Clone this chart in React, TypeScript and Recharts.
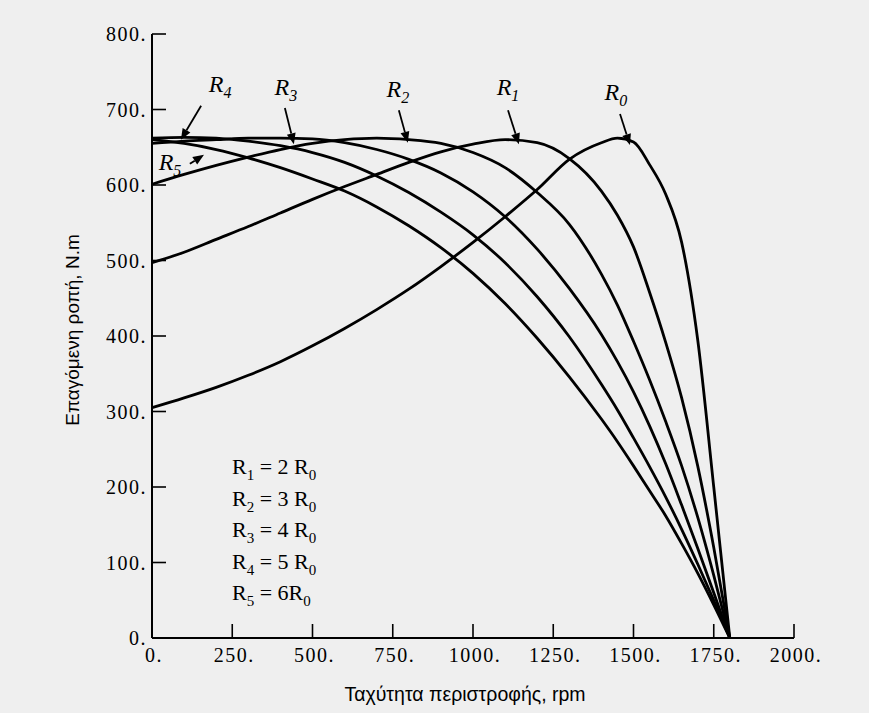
import { LineChart, Line, XAxis, YAxis, ReferenceDot, ReferenceLine } from "recharts";

// rotor speed, rpm (shared by all curves)
const speeds = [0, 100, 200, 300, 400, 500, 600, 700, 800, 900, 1000, 1100, 1200, 1300, 1400, 1450, 1500, 1550, 1600, 1650, 1700, 1750, 1800];

// induced torque, N.m
const torqueR0 = [305, 318, 332, 348, 366, 387, 410, 435, 462, 492, 524, 558, 594, 634, 656, 662, 657, 627, 588, 524, 395, 200, 0];
const torqueR1 = [497, 511, 528, 545, 563, 581, 598, 614, 630, 644, 654, 660, 656, 635, 592, 560, 518, 458, 392, 318, 228, 120, 0];
const torqueR2 = [601, 614, 626, 637, 647, 655, 660, 662, 660, 655, 643, 623, 590, 548, 482, 441, 393, 342, 287, 228, 160, 83, 0];
const torqueR3 = [655, 658, 660, 662, 662, 661, 656, 647, 634, 616, 591, 558, 515, 463, 402, 366, 326, 281, 231, 176, 119, 60, 0];
const torqueR4 = [662, 663, 662, 658, 652, 643, 630, 612, 590, 564, 534, 497, 452, 399, 336, 302, 265, 227, 187, 144, 98, 50, 0];
const torqueR5 = [660, 655, 647, 636, 623, 608, 592, 571, 546, 517, 483, 443, 397, 346, 290, 260, 228, 195, 162, 125, 86, 44, 0];

const xTicks = [0, 250, 500, 750, 1000, 1250, 1500, 1750, 2000];
const yTicks = [0, 100, 200, 300, 400, 500, 600, 700, 800];

// curve labels R0..R5: label anchor and arrow (rpm, N.m)
const labelSubs = ["0", "1", "2", "3", "4", "5"];
const labelAt = [[1445, 713], [1109, 719], [766, 717], [417, 719], [212, 723], [56, 620]];
const arrowFrom = [[1458, 694], [1109, 699], [769, 699], [414, 702], [153, 705], [118, 628]];
const arrowTo = [[1489, 653], [1143, 654], [797, 656], [442, 654], [90, 660], [162, 640]];

// R_k = m R0
const legendK = ["1", "2", "3", "4", "5"];
const legendM = ["2 ", "3 ", "4 ", "5 ", "6"];

const rows = speeds.map((rpm, i) => ({
  rpm,
  r0: torqueR0[i],
  r1: torqueR1[i],
  r2: torqueR2[i],
  r3: torqueR3[i],
  r4: torqueR4[i],
  r5: torqueR5[i],
}));

const SERIF = "'Liberation Serif', 'DejaVu Serif', serif";
const SANS = "'Liberation Sans', Arial, sans-serif";
const TICK = 14;

// tick label plus an inward tick mark
function XTick({ x, y, payload }: any) {
  return (
    <g>
      <line x1={x} y1={y} x2={x} y2={y - TICK} stroke="#000" strokeWidth={1.6} />
      <text x={x + 2} y={y + 10} dy="0.71em" textAnchor="middle" fontFamily={SERIF} fontSize={20} letterSpacing={1.5} fill="#000">
        {`${payload.value}.`}
      </text>
    </g>
  );
}

function YTick({ x, y, payload }: any) {
  return (
    <g>
      <line x1={x} y1={y} x2={x + TICK} y2={y} stroke="#000" strokeWidth={1.6} />
      <text x={x - 5} y={y} dy="0.35em" textAnchor="end" fontFamily={SERIF} fontSize={20} letterSpacing={1.5} fill="#000">
        {`${payload.value}.`}
      </text>
    </g>
  );
}

function Arrow(props: any) {
  const { x1, y1, x2, y2 } = props;
  const a = Math.atan2(y2 - y1, x2 - x1);
  const len = 11;
  const w = 4.5;
  const bx = x2 - len * Math.cos(a);
  const by = y2 - len * Math.sin(a);
  const px = -Math.sin(a) * w;
  const py = Math.cos(a) * w;
  return (
    <g>
      <line x1={x1} y1={y1} x2={bx} y2={by} stroke="#000" strokeWidth={1.8} />
      <polygon points={`${x2},${y2} ${bx + px},${by + py} ${bx - px},${by - py}`} fill="#000" />
    </g>
  );
}

function curveLabel(sub: string) {
  return (props: any) => (
    <text x={props.cx} y={props.cy} textAnchor="middle" fontFamily={SERIF} fontStyle="italic" fontSize={24} fill="#000">
      R
      <tspan dy={6} fontSize={16}>{sub}</tspan>
    </text>
  );
}

const subStyle = { fontSize: 15, position: "relative" as const, top: 6, lineHeight: 0 };

export default function App() {
  return (
    <div style={{ position: "absolute", left: 0, top: 0, width: 869, height: 713, background: "#efefef", overflow: "hidden" }}>
      <LineChart width={869} height={713} data={rows} margin={{ top: 34, right: 75, left: 92, bottom: 15 }}>
        <XAxis
          dataKey="rpm"
          type="number"
          domain={[0, 2000]}
          ticks={xTicks}
          tickSize={0}
          tickMargin={0}
          tickLine={false}
          tick={<XTick />}
          height={60}
          axisLine={{ stroke: "#000", strokeWidth: 2 }}
          label={{
            content: ({ viewBox }: any) => (
              <text x={viewBox.x + viewBox.width / 2 - 8} y={701} textAnchor="middle" fontFamily={SANS} fontSize={19.5} fill="#000">
                Ταχύτητα περιστροφής, rpm
              </text>
            ),
          }}
        />
        <XAxis xAxisId="top" orientation="top" dataKey="rpm" type="number" domain={[0, 2000]} height={0} tick={false} tickLine={false} axisLine={{ stroke: "#000", strokeWidth: 2 }} />
        <YAxis
          type="number"
          domain={[0, 800]}
          ticks={yTicks}
          tickSize={0}
          tickMargin={0}
          tickLine={false}
          tick={<YTick />}
          width={60}
          axisLine={{ stroke: "#000", strokeWidth: 2 }}
          label={{
            content: ({ viewBox }: any) => {
              const cx = viewBox.x - 20;
              const cy = viewBox.y + viewBox.height / 2 - 6;
              return (
                <text x={cx} y={cy} transform={`rotate(-90 ${cx} ${cy})`} textAnchor="middle" dominantBaseline="central" fontFamily={SANS} fontSize={19} fill="#000">
                  Επαγόμενη ροπή, N.m
                </text>
              );
            },
          }}
        />
        <YAxis yAxisId="right" orientation="right" type="number" domain={[0, 800]} width={0} tick={false} tickLine={false} axisLine={{ stroke: "#000", strokeWidth: 2 }} />
        <Line type="monotone" dataKey="r0" stroke="#000" strokeWidth={2.8} dot={false} isAnimationActive={false} />
        <Line type="monotone" dataKey="r1" stroke="#000" strokeWidth={2.8} dot={false} isAnimationActive={false} />
        <Line type="monotone" dataKey="r2" stroke="#000" strokeWidth={2.8} dot={false} isAnimationActive={false} />
        <Line type="monotone" dataKey="r3" stroke="#000" strokeWidth={2.8} dot={false} isAnimationActive={false} />
        <Line type="monotone" dataKey="r4" stroke="#000" strokeWidth={2.8} dot={false} isAnimationActive={false} />
        <Line type="monotone" dataKey="r5" stroke="#000" strokeWidth={2.8} dot={false} isAnimationActive={false} />
        {labelSubs.map((sub, i) => (
          <ReferenceLine
            key={`arrow-${sub}`}
            segment={[
              { x: arrowFrom[i][0], y: arrowFrom[i][1] },
              { x: arrowTo[i][0], y: arrowTo[i][1] },
            ]}
            shape={Arrow}
          />
        ))}
        {labelSubs.map((sub, i) => (
          <ReferenceDot key={`label-${sub}`} x={labelAt[i][0]} y={labelAt[i][1]} r={0} shape={curveLabel(sub)} />
        ))}
      </LineChart>
      <div
        style={{
          position: "absolute",
          left: 232,
          top: 451,
          fontFamily: SERIF,
          fontSize: 22,
          color: "#000",
        }}
      >
        {legendK.map((k, i) => (
          <div key={k} style={{ whiteSpace: "pre", height: 31.5, lineHeight: "31.5px" }}>
            R<span style={subStyle}>{k}</span> = {legendM[i]}R<span style={subStyle}>0</span>
          </div>
        ))}
      </div>
    </div>
  );
}
